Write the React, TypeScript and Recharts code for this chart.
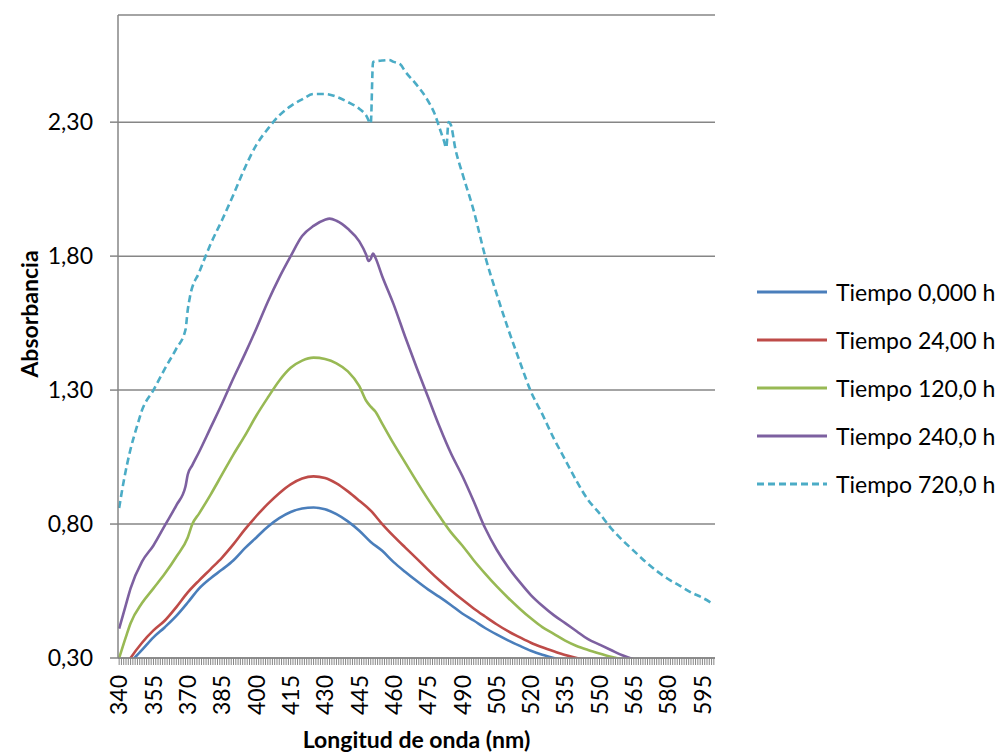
import React from 'react';
import { LineChart, Line, XAxis, YAxis, CartesianGrid, Legend } from 'recharts';

type Pair = [number, number];

// Absorbance spectra (wavelength nm, absorbance)
const tiempo0: Pair[] = [
  [340, 0.24], [345, 0.285], [350, 0.33], [355, 0.377], [360, 0.415], [365, 0.457], [370, 0.507],
  [375, 0.56], [380, 0.598], [385, 0.63], [390, 0.665], [395, 0.71], [400, 0.75], [405, 0.79],
  [410, 0.822], [415, 0.845], [420, 0.858], [425, 0.862], [430, 0.855], [435, 0.837], [440, 0.81],
  [445, 0.775], [450, 0.733], [455, 0.7], [460, 0.658], [465, 0.622], [470, 0.588], [475, 0.556],
  [480, 0.528], [485, 0.498], [490, 0.466], [495, 0.44], [500, 0.412], [505, 0.388], [510, 0.366],
  [515, 0.346], [520, 0.327], [525, 0.312], [530, 0.3], [535, 0.287], [540, 0.276],
];

const tiempo24: Pair[] = [
  [340, 0.23], [345, 0.3], [350, 0.357], [355, 0.403], [360, 0.44], [365, 0.49], [370, 0.545],
  [375, 0.59], [380, 0.632], [385, 0.675], [390, 0.725], [395, 0.78], [400, 0.83], [405, 0.875],
  [410, 0.915], [415, 0.948], [420, 0.97], [425, 0.978], [430, 0.972], [435, 0.952], [440, 0.922],
  [445, 0.887], [450, 0.85], [455, 0.8], [460, 0.755], [465, 0.713], [470, 0.672], [475, 0.63],
  [480, 0.59], [485, 0.553], [490, 0.518], [495, 0.485], [500, 0.455], [505, 0.426], [510, 0.4],
  [515, 0.378], [520, 0.357], [525, 0.34], [530, 0.325], [535, 0.311], [540, 0.3], [545, 0.29],
  [550, 0.28],
];

const tiempo120: Pair[] = [
  [340, 0.3], [343, 0.38], [345, 0.43], [350, 0.505], [355, 0.56], [360, 0.615], [365, 0.678],
  [370, 0.75], [372, 0.8], [375, 0.84], [380, 0.91], [385, 0.985], [390, 1.06], [395, 1.13],
  [400, 1.205], [405, 1.272], [410, 1.335], [415, 1.383], [420, 1.41], [425, 1.421], [430, 1.416],
  [435, 1.4], [440, 1.37], [445, 1.315], [448, 1.26], [450, 1.238], [452, 1.22], [455, 1.175],
  [460, 1.1], [465, 1.03], [470, 0.96], [475, 0.893], [480, 0.83], [485, 0.77], [490, 0.72],
  [495, 0.665], [500, 0.615], [505, 0.568], [510, 0.525], [515, 0.485], [520, 0.448], [525, 0.415],
  [530, 0.39], [535, 0.365], [540, 0.345], [545, 0.33], [550, 0.317], [555, 0.305], [560, 0.295],
  [565, 0.285],
];

const tiempo240: Pair[] = [
  [340, 0.41], [343, 0.5], [345, 0.56], [350, 0.66], [355, 0.72], [360, 0.795], [365, 0.87],
  [369, 0.94], [370, 0.985], [372, 1.02], [375, 1.07], [380, 1.16], [385, 1.25], [390, 1.345],
  [395, 1.435], [400, 1.53], [405, 1.63], [410, 1.72], [415, 1.8], [420, 1.875], [425, 1.913],
  [430, 1.936], [432, 1.94], [435, 1.932], [440, 1.902], [445, 1.855], [448, 1.805], [449, 1.782],
  [450, 1.79], [451, 1.81], [452, 1.795], [455, 1.725], [460, 1.62], [465, 1.5], [470, 1.385],
  [475, 1.275], [480, 1.165], [485, 1.065], [490, 0.98], [495, 0.885], [500, 0.785], [505, 0.705],
  [510, 0.64], [515, 0.585], [520, 0.535], [525, 0.495], [530, 0.46], [535, 0.43], [540, 0.4],
  [545, 0.37], [550, 0.35], [555, 0.33], [560, 0.31], [565, 0.295], [570, 0.285],
];

const tiempo720: Pair[] = [
  [340, 0.86], [342, 0.96], [345, 1.08], [348, 1.17], [350, 1.225], [355, 1.3], [360, 1.38],
  [365, 1.455], [369, 1.525], [370, 1.6], [371, 1.65], [375, 1.74], [380, 1.845], [385, 1.935],
  [390, 2.03], [395, 2.13], [400, 2.215], [405, 2.275], [410, 2.325], [415, 2.36], [420, 2.385],
  [425, 2.405], [430, 2.405], [435, 2.395], [440, 2.375], [445, 2.35], [448, 2.325], [450, 2.295],
  [451, 2.525], [455, 2.53], [458, 2.532], [460, 2.525], [463, 2.515], [465, 2.49], [470, 2.44],
  [475, 2.38], [478, 2.33], [480, 2.28], [482, 2.23], [483, 2.205], [484, 2.3], [485, 2.29],
  [487, 2.2], [490, 2.11], [495, 1.97], [500, 1.8], [505, 1.66], [510, 1.53], [515, 1.41],
  [520, 1.295], [525, 1.21], [530, 1.12], [535, 1.04], [540, 0.96], [545, 0.89], [550, 0.84],
  [555, 0.785], [560, 0.74], [565, 0.7], [570, 0.66], [575, 0.625], [580, 0.595], [585, 0.57],
  [590, 0.545], [595, 0.525], [600, 0.5],
];

const seriesNames = ['Tiempo 0,000 h', 'Tiempo 24,00 h', 'Tiempo 120,0 h', 'Tiempo 240,0 h', 'Tiempo 720,0 h'];
const seriesValues = [tiempo0, tiempo24, tiempo120, tiempo240, tiempo720];
const seriesColors = ['#4A7EBB', '#BE4B48', '#98B954', '#7D60A0', '#4BACC6'];
const seriesDash = [undefined, undefined, undefined, undefined, '7 4'];

const labeledTicks = [340, 355, 370, 385, 400, 415, 430, 445, 460, 475, 490, 505, 520, 535, 550, 565, 580, 595];
const yTicks = [0.3, 0.8, 1.3, 1.8, 2.3];
const firstNm = 340;
const lastNm = 600;

const allTicks: number[] = [];
for (let v = firstNm; v <= lastNm; v++) allTicks.push(v);

// merge series into one table keyed by wavelength
const rowMap = new Map<number, any>();
seriesValues.forEach((s, i) => {
  s.forEach(([nm, val]) => {
    if (!rowMap.has(nm)) rowMap.set(nm, { nm });
    rowMap.get(nm)[`s${i}`] = val;
  });
});
const data = Array.from(rowMap.values()).sort((a, b) => a.nm - b.nm);

const FONT = 'Lato, "Open Sans", sans-serif';
const GRID = '#868686';

const XTick = (props: any) => {
  const { x, y, payload } = props;
  if (!labeledTicks.includes(payload.value)) return <g />;
  return (
    <text
      x={x}
      y={y}
      transform={`rotate(-90, ${x}, ${y})`}
      textAnchor="end"
      dy="0.36em"
      fontFamily={FONT}
      fontSize={23}
      fill="#000"
    >
      {payload.value}
    </text>
  );
};

const renderLegend = () => (
  <div style={{ fontFamily: FONT, fontSize: 23, color: '#000' }}>
    {seriesNames.map((name, i) => (
      <div key={name} style={{ display: 'flex', alignItems: 'center', height: 48 }}>
        <svg width={70} height={10} style={{ display: 'block' }}>
          <line x1={0} y1={5} x2={70} y2={5} stroke={seriesColors[i]} strokeWidth={3} strokeDasharray={seriesDash[i]} />
        </svg>
        <span style={{ marginLeft: 9, whiteSpace: 'nowrap' }}>{name}</span>
      </div>
    ))}
  </div>
);

export default function App() {
  return (
    <div style={{ position: 'absolute', left: 0, top: 0, width: 1003, height: 753, background: '#fff' }}>
      <LineChart width={1003} height={753} data={data} margin={{ top: 15, right: 288, bottom: 0, left: 0 }}>
        <CartesianGrid horizontal vertical={false} stroke={GRID} strokeWidth={1.5} />
        <XAxis
          dataKey="nm"
          type="number"
          domain={[firstNm - 0.5, lastNm + 0.5]}
          ticks={allTicks}
          interval={0}
          height={95}
          tickSize={7}
          tickMargin={10}
          tick={<XTick />}
          axisLine={{ stroke: GRID, strokeWidth: 1.5 }}
          tickLine={{ stroke: GRID, strokeWidth: 1 }}
          label={{
            content: (p: any) => {
              const vb = p.viewBox;
              return (
                <text x={vb.x + vb.width / 2} y={748} textAnchor="middle" fontFamily={FONT} fontWeight="bold" fontSize={23} fill="#000">
                  Longitud de onda (nm)
                </text>
              );
            },
          }}
        />
        <YAxis
          type="number"
          domain={[0.3, 2.7]}
          allowDataOverflow
          ticks={yTicks}
          interval={0}
          width={118}
          tickSize={8}
          tickMargin={17}
          tick={{ fontFamily: FONT, fontSize: 23, fill: '#000' }}
          tickFormatter={(v: number) => v.toFixed(2).replace('.', ',')}
          axisLine={{ stroke: GRID, strokeWidth: 1.5 }}
          tickLine={{ stroke: GRID, strokeWidth: 1.5 }}
          label={{
            content: () => (
              <text x={30} y={314} transform="rotate(-90, 30, 314)" textAnchor="middle" dy="0.36em" fontFamily={FONT} fontWeight="bold" fontSize={23} fill="#000">
                Absorbancia
              </text>
            ),
          }}
        />
        <Legend
          layout="vertical"
          align="center"
          verticalAlign="middle"
          wrapperStyle={{ left: 757, top: 268, width: 246 }}
          content={renderLegend}
        />
        {seriesNames.map((name, i) => (
          <Line
            key={name}
            name={name}
            dataKey={`s${i}`}
            type="monotone"
            stroke={seriesColors[i]}
            strokeWidth={2.6}
            strokeDasharray={seriesDash[i]}
            dot={false}
            activeDot={false}
            connectNulls
            isAnimationActive={false}
          />
        ))}
      </LineChart>
    </div>
  );
}
